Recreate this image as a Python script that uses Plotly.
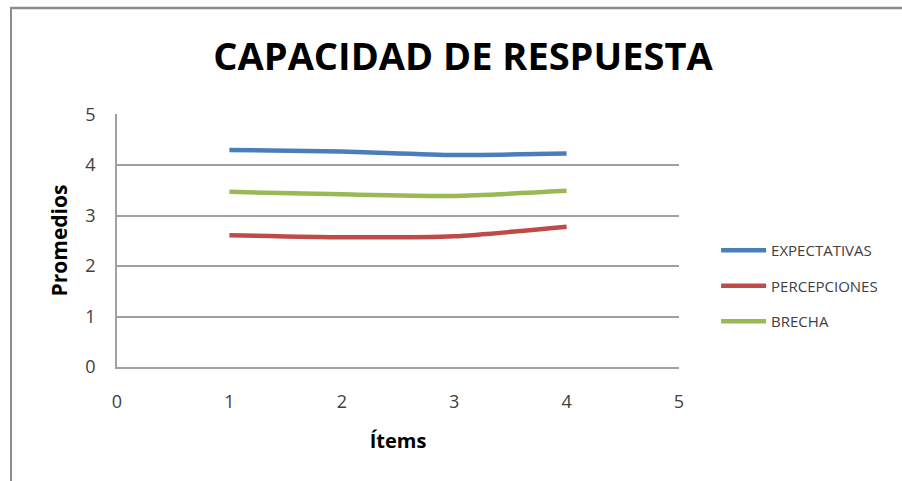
import plotly.graph_objects as go

items = [1, 2, 3, 4]
expectativas = [4.30, 4.27, 4.20, 4.23]
percepciones = [2.61, 2.57, 2.59, 2.78]
brecha = [3.47, 3.42, 3.39, 3.49]
tick_vals = [0, 1, 2, 3, 4, 5]

series = [
    ("EXPECTATIVAS", expectativas, "#4A7EBB"),
    ("PERCEPCIONES", percepciones, "#BE4B48"),
    ("BRECHA", brecha, "#98B954"),
]

fig = go.Figure()
for name, vals, color in series:
    fig.add_trace(go.Scatter(
        x=items, y=vals, name=name, mode="lines", legendgroup=name,
        line=dict(color=color, width=4.5, shape="spline", smoothing=0.6),
    ))

L, R, T, B = 117, 679, 114, 367
PW, PH = R - L, B - T

fig.update_layout(
    width=902, height=481,
    margin=dict(l=L, r=902 - R, t=T, b=481 - B),
    paper_bgcolor="white", plot_bgcolor="white",
    title=dict(text="<b>CAPACIDAD DE RESPUESTA</b>", x=(463 - L) / PW, xref="paper",
               xanchor="center", y=1 - 57 / 481, yanchor="middle",
               font=dict(family="Open Sans", size=38, color="black")),
    font=dict(family="Open Sans", color="#404040"),
    showlegend=True,
    legend=dict(x=1.066, y=(B - 286) / PH, xanchor="left", yanchor="middle",
                font=dict(size=15, color="#404040"), tracegroupgap=13,
                itemwidth=45, bgcolor="rgba(0,0,0,0)"),
    xaxis=dict(range=[0, 5], tickvals=tick_vals, showgrid=False, zeroline=False,
               showline=True, linecolor="#A0A0A0", linewidth=1.5,
               ticks="", ticklabelstandoff=18,
               tickfont=dict(size=18, color="#404040"),
               title=dict(text="<b>Ítems</b>", font=dict(size=20, color="black"), standoff=22)),
    yaxis=dict(range=[0, 5.012], tickvals=tick_vals, showgrid=True, gridcolor="#A0A0A0", gridwidth=1.5,
               zeroline=False, showline=True, linecolor="#A0A0A0", linewidth=1.5,
               ticks="", ticklabelstandoff=16,
               tickfont=dict(size=18, color="#404040"),
               title=dict(text="<b>Promedios</b>", font=dict(size=21, color="black"), standoff=12)),
)

# outer frame of the chart area
fig.add_shape(type="line", xref="paper", yref="paper",
              x0=(10 - L) / PW, x1=(905 - L) / PW,
              y0=(B - 8) / PH, y1=(B - 8) / PH,
              line=dict(color="#8C8C8C", width=2.5))
fig.add_shape(type="line", xref="paper", yref="paper",
              x0=(11 - L) / PW, x1=(11 - L) / PW,
              y0=(B - 8) / PH, y1=(B - 485) / PH,
              line=dict(color="#8C8C8C", width=2))

fig.write_html("out.html", config={"displayModeBar": False},
               post_script="document.body.style.margin='0';")
